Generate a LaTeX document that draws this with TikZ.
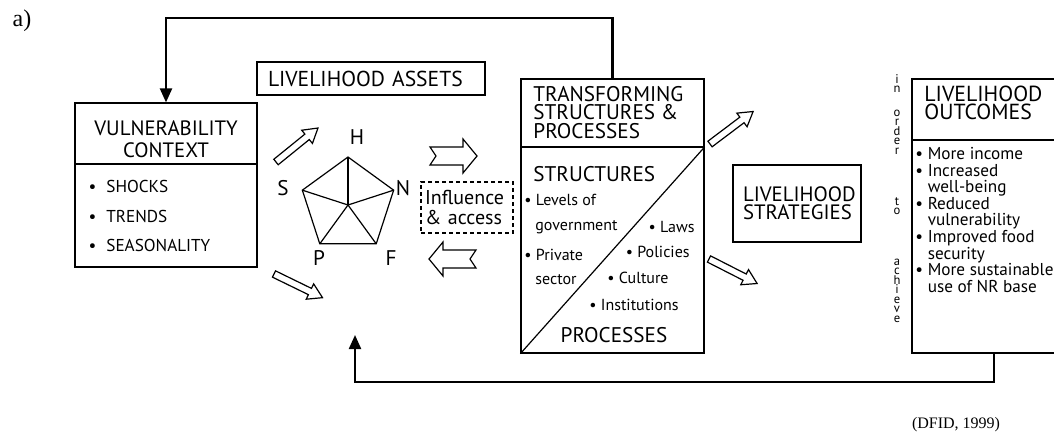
\documentclass[tikz,border=0pt]{standalone}
\usepackage{fontspec}
\setmainfont{PT Sans}
\newfontfamily\refserif{Liberation Serif}
\usetikzlibrary{calc}
\usetikzlibrary{positioning}
\usetikzlibrary{arrows.meta}
\newcommand{\vl}[1]{\smash{#1}}

\begin{document}
\begin{tikzpicture}[x=0.5pt, y=-0.5pt,
		box/.style={draw, line width=0.6pt, inner sep=0pt},
		title/.style={font=\fontsize{10.6}{9.2}\selectfont, align=left, inner sep=0pt},
		caps/.style={font=\fontsize{8.6}{8.6}\selectfont, inner sep=0pt},
		item/.style={font=\fontsize{8}{8.3}\selectfont, inner sep=0pt},
		letters/.style={font=\fontsize{6.3}{4.75}\selectfont, inner sep=0pt, align=center},
		feedback/.style={line width=1.1pt, -{Triangle[length=7pt, width=6pt]}},
		hollow/.style={draw, line width=0.6pt, fill=white, line join=miter},
		blockarrow/.pic={\path[hollow] (0,-3.5) -- (40,-3.5) -- (40,-8.5) -- (54,0) -- (40,8.5) -- (40,3.5) -- (0,3.5) -- cycle;},
		notcharrow/.pic={\path[hollow] (0,-9) -- (33,-9) -- (33,-17) -- (47,0) -- (33,17) -- (33,9) -- (0,9) -- (6,0) -- cycle;}]
		\useasboundingbox (0,0) rectangle (1054,440);

		\node[font=\refserif\fontsize{12}{12}\selectfont] (tag) at (22,21) {a)};

		% vulnerability context
		\node[box, minimum width=91pt, minimum height=82pt] (vc) at (166,185) {};
		\draw[line width=0.6pt] (vc.west |- 0,164) -- (vc.east |- 0,164);
		\node[title, align=center, font=\fontsize{10.4}{11}\selectfont] (vcTitle) at (166,139) {VULNERABILITY\\CONTEXT};
		\foreach \vcitem/\yy in {SHOCKS/186, TRENDS/216, SEASONALITY/245}
			\node[caps, anchor=west] (vc-\vcitem) at (106,\yy) {\llap{\textbullet\hspace{5pt}}\vcitem};

		% assets
		\node[box, minimum height=16.5pt, text width=103pt, inner xsep=5.5pt, align=left, font=\fontsize{10.8}{10}\selectfont] (assets) at (371,78.5) {LIVELIHOOD ASSETS};
		\coordinate (pcenter) at (348,205);
		\foreach \k/\ang in {h/-90, n/-18, f/54, p/126, s/198}
			\coordinate (pent-\k) at ($(pcenter)+(\ang:48)$);
		\draw[line width=0.6pt] (pent-h) -- (pent-n) -- (pent-f) -- (pent-p) -- (pent-s) -- cycle;
		\foreach \k in {h,n,f,p,s}
			\draw[line width=0.6pt] (pcenter) -- (pent-\k);
		\node[title] (lblH) at (357,137) {H};
		\node[title] (lblN) at (403,188) {N};
		\node[title] (lblS) at (283,188) {S};
		\node[title] (lblP) at (319,258) {P};
		\node[title] (lblF) at (391,258) {F};

		\pic[rotate=39] (toAssets) at (276,162) {blockarrow};
		\pic[rotate=-26] (toProcesses) at (274,274) {blockarrow};
		\pic (toTsp) at (430,156) {notcharrow};
		\pic[rotate=180] (fromTsp) at (476,259) {notcharrow};

		\node[draw, dash pattern=on 2pt off 1.5pt, line width=0.6pt, minimum height=25.5pt, text width=42pt, inner xsep=2pt, inner ysep=0pt, align=left, font=\fontsize{10}{10}\selectfont] (influence) at (467,207.5) {Influence\\\& access};

		% transforming structures
		\node[box, minimum width=91.5pt, minimum height=137pt] (tsp) at (612.5,216) {};
		\draw[line width=0.6pt] (tsp.west |- 0,147) -- (tsp.east |- 0,147);
		\draw[line width=0.6pt] (tsp.south west) -- (tsp.east |- 0,147);
		\node[title, anchor=west] (tspTitle) at (533,112.5) {TRANSFORMING\\STRUCTURES \&\\PROCESSES};
		\node[title, anchor=west] (tspStruct) at (533,174) {STRUCTURES};
		\node[item, anchor=west] (tspLevels) at (524,200) {\textbullet\ Levels of};
		\node[item, anchor=west] (tspGov) at (535,227) {government};
		\node[item, anchor=west] (tspPrivate) at (524,255) {\textbullet\ Private};
		\node[item, anchor=west] (tspSector) at (535,280) {sector};
		\node[item, anchor=east] (tspLaws) at (695,227) {\textbullet\ Laws};
		\node[item, anchor=east] (tspPolicies) at (690,252) {\textbullet\ Policies};
		\node[item, anchor=east] (tspCulture) at (669,278) {\textbullet\ Culture};
		\node[item, anchor=east] (tspInst) at (679,305) {\textbullet\ Institutions};
		\node[title] (tspProc) at (614,335) {PROCESSES};

		\pic[rotate=37] (toStrat) at (710,144) {blockarrow};
		\pic[rotate=-27] (toStratLow) at (709,259) {blockarrow};

		% strategies
		\node[box, minimum height=38.5pt, text width=54pt, inner xsep=5pt, align=left, font=\fontsize{10.4}{9.2}\selectfont] (strategies) at (797,203.5) {LIVELIHOOD\\STRATEGIES};

		\node[letters, anchor=north] (inOrder) at (897,83) {\vl{i}\\\vl{n}\\[7pt]\vl{o}\\\vl{r}\\\vl{d}\\\vl{e}\\\vl{r}\\[20.75pt]\vl{t}\\\vl{o}\\[20.5pt]\vl{a}\\\vl{c}\\\vl{h}\\\vl{i}\\\vl{e}\\\vl{v}\\\vl{e}};

		% outcomes
		\node[box, minimum width=82pt, minimum height=137pt] (outcomes) at (994,216) {};
		\draw[line width=0.6pt] (outcomes.west |- 0,140) -- (outcomes.east |- 0,140);
		\node[title, anchor=west, font=\fontsize{10.9}{9.3}\selectfont] (loTitle) at (924,103) {LIVELIHOOD\\OUTCOMES};
		\node[item, anchor=north west, align=left, font=\fontsize{8.6}{8.3}\selectfont] (loList) at (915,147) {\textbullet\ More income\\
			\textbullet\ Increased\\
			\hphantom{\textbullet\ }well-being\\
			\textbullet\ Reduced\\
			\hphantom{\textbullet\ }vulnerability\\
			\textbullet\ Improved food\\
			\hphantom{\textbullet\ }security\\
			\textbullet\ More sustainable\\
			\hphantom{\textbullet\ }use of NR base};

		% feedback loops
		\coordinate (topLine) at (0,18);
		\coordinate (bottomLine) at (0,382);
		\coordinate (assetsIn) at (355,335);
		\draw[feedback] (tsp.north) -- (tsp.north |- topLine) -| (vc.north);
		\draw[feedback] (outcomes.south) -- (outcomes.south |- bottomLine) -| (assetsIn);

		\node[font=\refserif\fontsize{8}{8}\selectfont] (source) at (956,425) {(DFID, 1999)};
\end{tikzpicture}
\end{document}
